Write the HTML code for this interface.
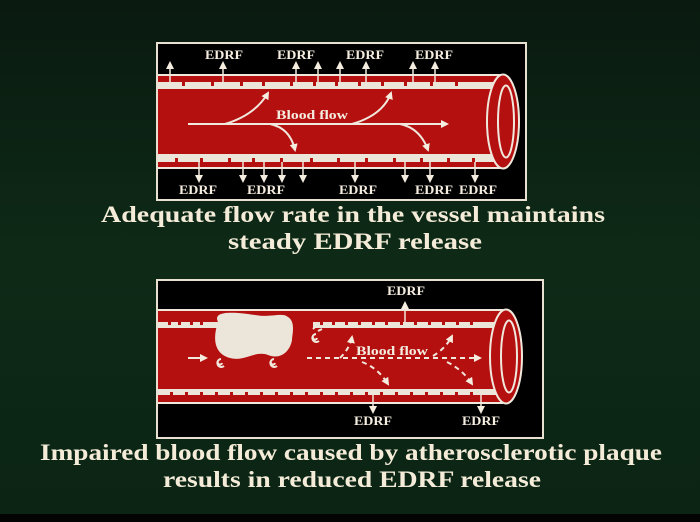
<!DOCTYPE html>
<html><head><style>
html,body{margin:0;padding:0;background:#0c2415;}
svg{display:block}
text{font-family:"Liberation Serif",serif;font-weight:bold;}
</style></head><body>
<svg width="700" height="522" viewBox="0 0 700 522" xmlns="http://www.w3.org/2000/svg">
<defs>
<marker id="a" markerWidth="8" markerHeight="8" refX="6" refY="4" orient="auto" markerUnits="userSpaceOnUse"><path d="M0,0 L8,4 L0,8 z" fill="#f4ede0"/></marker>
<linearGradient id="bg" x1="0" y1="0" x2="0" y2="1"><stop offset="0" stop-color="#0a1a10"/><stop offset="0.5" stop-color="#0e2a17"/><stop offset="1" stop-color="#0b2414"/></linearGradient>
</defs>
<rect width="700" height="522" fill="url(#bg)"/>
<rect y="514" width="700" height="8" fill="#030303"/>

<!-- TOP PANEL -->
<rect x="157" y="43" width="369" height="157" fill="#000" stroke="#e8e0d0" stroke-width="2"/>
<rect x="158" y="75" width="345" height="93" fill="#b51010"/>
<line x1="158" y1="75" x2="503" y2="75" stroke="#f0e8dc" stroke-width="2"/>
<line x1="158" y1="168" x2="503" y2="168" stroke="#f0e8dc" stroke-width="2"/>
<rect x="158" y="82" width="340" height="7" fill="#ece6da"/>
<rect x="158" y="154" width="340" height="8" fill="#ece6da"/>
<g fill="#b51010">
<rect x="182" y="82" width="3" height="4"/><rect x="211" y="82" width="3" height="4"/><rect x="240" y="82" width="3" height="4"/><rect x="262" y="82" width="3" height="4"/><rect x="290" y="82" width="3" height="4"/><rect x="313" y="82" width="3" height="4"/><rect x="335" y="82" width="3" height="4"/><rect x="358" y="82" width="3" height="4"/><rect x="381" y="82" width="3" height="4"/><rect x="404" y="82" width="3" height="4"/><rect x="430" y="82" width="3" height="4"/><rect x="455" y="82" width="3" height="4"/>
<rect x="175" y="158" width="3" height="4"/><rect x="200" y="158" width="3" height="4"/><rect x="228" y="158" width="3" height="4"/><rect x="252" y="158" width="3" height="4"/><rect x="280" y="158" width="3" height="4"/><rect x="310" y="158" width="3" height="4"/><rect x="337" y="158" width="3" height="4"/><rect x="365" y="158" width="3" height="4"/><rect x="393" y="158" width="3" height="4"/><rect x="420" y="158" width="3" height="4"/><rect x="447" y="158" width="3" height="4"/><rect x="472" y="158" width="3" height="4"/>
</g>
<ellipse cx="503" cy="121.5" rx="16" ry="47" fill="#b51010" stroke="#f0e8dc" stroke-width="2"/>
<ellipse cx="506" cy="121.5" rx="8" ry="36" fill="#b51010" stroke="#f0e8dc" stroke-width="2"/>
<g stroke="#f0e8dc" stroke-width="2" fill="none" marker-end="url(#a)">
<line x1="188" y1="124" x2="447" y2="124"/>
<path d="M225,124 Q255,115 268,93"/>
<path d="M270,124 Q290,128 295,150"/>
<path d="M352,124 Q383,115 391,93"/>
<path d="M400,124 Q420,128 428,150"/>
</g>
<g stroke="#f0e8dc" stroke-width="1.5" marker-end="url(#a)">
<line x1="170" y1="82" x2="170" y2="63"/><line x1="223" y1="82" x2="223" y2="63"/><line x1="296" y1="82" x2="296" y2="63"/><line x1="318" y1="82" x2="318" y2="63"/><line x1="340" y1="82" x2="340" y2="63"/><line x1="366" y1="82" x2="366" y2="63"/><line x1="413" y1="82" x2="413" y2="63"/><line x1="435" y1="82" x2="435" y2="63"/>
<line x1="199" y1="162" x2="199" y2="181"/><line x1="243" y1="162" x2="243" y2="181"/><line x1="264" y1="162" x2="264" y2="181"/><line x1="282" y1="162" x2="282" y2="181"/><line x1="303" y1="162" x2="303" y2="181"/><line x1="355" y1="162" x2="355" y2="181"/><line x1="405" y1="162" x2="405" y2="181"/><line x1="430" y1="162" x2="430" y2="181"/><line x1="475" y1="162" x2="475" y2="181"/>
</g>
<g fill="#f4ede0" font-size="12.5">
<text x="205" y="59" textLength="38" lengthAdjust="spacingAndGlyphs">EDRF</text><text x="277" y="59" textLength="38" lengthAdjust="spacingAndGlyphs">EDRF</text><text x="346" y="59" textLength="38" lengthAdjust="spacingAndGlyphs">EDRF</text><text x="415" y="59" textLength="38" lengthAdjust="spacingAndGlyphs">EDRF</text>
<text x="179" y="194" textLength="38" lengthAdjust="spacingAndGlyphs">EDRF</text><text x="247" y="194" textLength="38" lengthAdjust="spacingAndGlyphs">EDRF</text><text x="339" y="194" textLength="38" lengthAdjust="spacingAndGlyphs">EDRF</text><text x="415" y="194" textLength="38" lengthAdjust="spacingAndGlyphs">EDRF</text><text x="459" y="194" textLength="38" lengthAdjust="spacingAndGlyphs">EDRF</text>
<text x="276" y="119" font-size="13" textLength="72" lengthAdjust="spacingAndGlyphs">Blood flow</text>
</g>

<!-- BOTTOM PANEL -->
<rect x="157" y="280" width="386" height="158" fill="#000" stroke="#e8e0d0" stroke-width="2"/>
<rect x="158" y="310" width="345" height="93" fill="#b51010"/>
<line x1="158" y1="310" x2="503" y2="310" stroke="#f0e8dc" stroke-width="2"/>
<line x1="158" y1="403" x2="503" y2="403" stroke="#f0e8dc" stroke-width="2"/>
<rect x="158" y="322" width="340" height="6" fill="#ece6da"/>
<rect x="158" y="389" width="340" height="6" fill="#ece6da"/>
<g fill="#b51010">
<rect x="168" y="322" width="3" height="3"/><rect x="178" y="322" width="3" height="3"/><rect x="190" y="322" width="3" height="3"/><rect x="200" y="322" width="3" height="3"/><rect x="320" y="322" width="3" height="3"/><rect x="332" y="322" width="3" height="3"/><rect x="345" y="322" width="3" height="3"/><rect x="358" y="322" width="3" height="3"/><rect x="372" y="322" width="3" height="3"/><rect x="385" y="322" width="3" height="3"/><rect x="400" y="322" width="3" height="3"/><rect x="414" y="322" width="3" height="3"/><rect x="428" y="322" width="3" height="3"/><rect x="442" y="322" width="3" height="3"/><rect x="456" y="322" width="3" height="3"/><rect x="470" y="322" width="3" height="3"/>
<rect x="170" y="392" width="3" height="3"/><rect x="185" y="392" width="3" height="3"/><rect x="200" y="392" width="3" height="3"/><rect x="215" y="392" width="3" height="3"/><rect x="230" y="392" width="3" height="3"/><rect x="245" y="392" width="3" height="3"/><rect x="260" y="392" width="3" height="3"/><rect x="275" y="392" width="3" height="3"/><rect x="290" y="392" width="3" height="3"/><rect x="305" y="392" width="3" height="3"/><rect x="320" y="392" width="3" height="3"/><rect x="335" y="392" width="3" height="3"/><rect x="350" y="392" width="3" height="3"/><rect x="365" y="392" width="3" height="3"/><rect x="380" y="392" width="3" height="3"/><rect x="395" y="392" width="3" height="3"/><rect x="410" y="392" width="3" height="3"/><rect x="425" y="392" width="3" height="3"/><rect x="440" y="392" width="3" height="3"/><rect x="455" y="392" width="3" height="3"/><rect x="470" y="392" width="3" height="3"/>
</g>
<rect x="263" y="322" width="50" height="6" fill="#b51010"/>
<path d="M218,322 C212,310 235,312 255,315 C272,318 282,312 288,317 C296,322 292,335 292,340 C290,352 280,360 268,355 C255,350 245,362 230,358 C215,354 212,340 218,322 Z" fill="#ece6da"/>
<ellipse cx="506" cy="356.5" rx="16" ry="47" fill="#b51010" stroke="#f0e8dc" stroke-width="2"/>
<ellipse cx="509" cy="356.5" rx="8" ry="36" fill="#b51010" stroke="#f0e8dc" stroke-width="2"/>
<g stroke="#f0e8dc" stroke-width="2" fill="none">
<line x1="188" y1="358" x2="206" y2="358" marker-end="url(#a)"/>
<path d="M224,366 a4,4 0 1 1 -3,-7 M218,362 a2,2 0 1 0 4,1"/>
<path d="M277,366 a4,4 0 1 1 -3,-7 M271,362 a2,2 0 1 0 4,1"/>
<path d="M319,341 a4,4 0 1 1 -3,-7 M313,337 a2,2 0 1 0 4,1"/>
<path d="M313,329 l3,-3 M318,331 l4,-2"/>
</g>
<g stroke="#f0e8dc" stroke-width="2" fill="none" stroke-dasharray="5,4" marker-end="url(#a)">
<line x1="307" y1="358" x2="480" y2="358"/>
<path d="M340,358 Q350,348 352,337"/>
<path d="M362,362 Q378,368 388,384"/>
<path d="M433,356 Q446,348 452,336"/>
<path d="M447,362 Q463,370 472,384"/>
</g>
<g stroke="#f0e8dc" stroke-width="1.5" marker-end="url(#a)">
<line x1="405" y1="322" x2="405" y2="303"/>
<line x1="373" y1="395" x2="373" y2="412"/><line x1="481" y1="395" x2="481" y2="412"/>
</g>
<g fill="#f4ede0" font-size="12.5">
<text x="387" y="295" textLength="38" lengthAdjust="spacingAndGlyphs">EDRF</text>
<text x="354" y="425" textLength="38" lengthAdjust="spacingAndGlyphs">EDRF</text><text x="462" y="425" textLength="38" lengthAdjust="spacingAndGlyphs">EDRF</text>
<text x="356" y="355" font-size="13" textLength="72" lengthAdjust="spacingAndGlyphs">Blood flow</text>
</g>

<!-- CAPTIONS -->
<g fill="#f4ecd8" font-size="23.5">
<text x="101" y="222" textLength="504" lengthAdjust="spacingAndGlyphs">Adequate flow rate in the vessel maintains</text>
<text x="228" y="249" textLength="254" lengthAdjust="spacingAndGlyphs">steady EDRF release</text>
<text x="40" y="460" textLength="622" lengthAdjust="spacingAndGlyphs">Impaired blood flow caused by atherosclerotic plaque</text>
<text x="163" y="487" textLength="378" lengthAdjust="spacingAndGlyphs">results in reduced EDRF release</text>
</g>
</svg>
</body></html>
